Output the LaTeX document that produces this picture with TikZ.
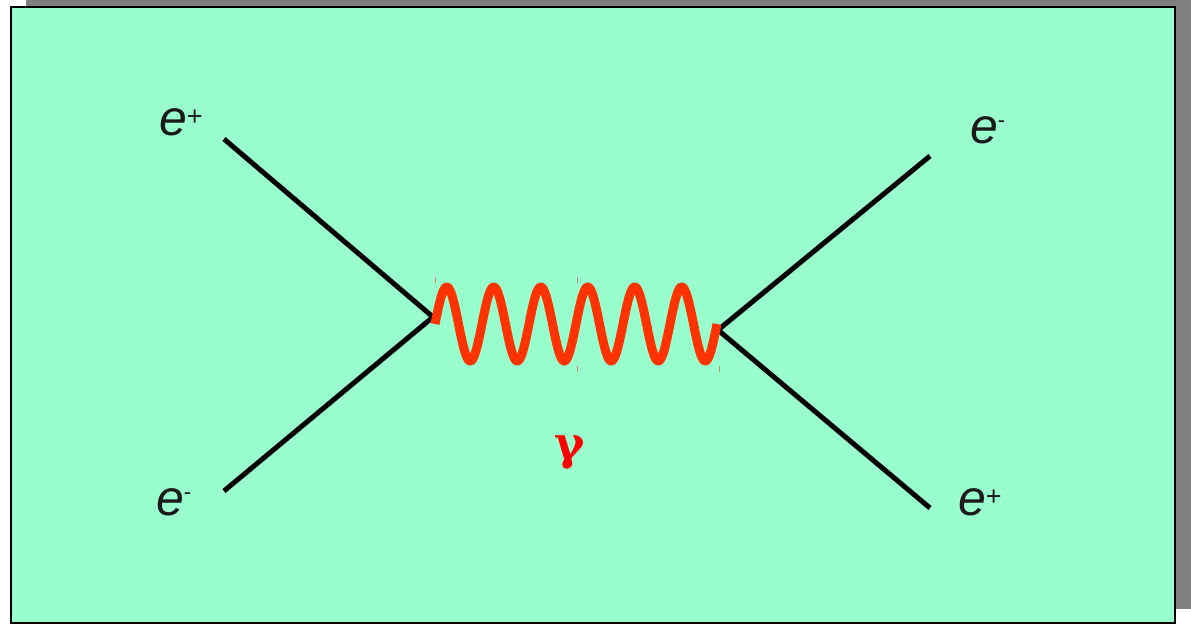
\documentclass[tikz,border=0pt]{standalone}
\usepackage{fontspec}
\setmainfont{Liberation Sans}
\newfontfamily\gfont{DejaVu Serif}
\definecolor{bggreen}{HTML}{99FFCC}
\definecolor{shadowgray}{HTML}{808080}
\definecolor{waveorange}{HTML}{FF3300}
\definecolor{ticktan}{HTML}{CC8866}
\definecolor{inkdark}{HTML}{1A1A1A}
\tikzset{
  leg/.style={line width=5pt, black},
  wave/.style={line width=9pt, waveorange, line join=round},
  lbl/.style={inner sep=0pt, outer sep=0pt, anchor=base west, text=inkdark, font=\fontsize{50}{50}\selectfont\itshape},
  tick/.style={line width=1pt, ticktan}
}
\newcommand{\supplus}{\raisebox{10pt}{\fontsize{27}{27}\selectfont\upshape +}}
\newcommand{\supminus}{\raisebox{16pt}{\fontsize{22}{22}\selectfont\upshape -}}
\begin{document}
\begin{tikzpicture}[x=1pt, y=-1pt]
\useasboundingbox (0,0) rectangle (1191,624);
% shadow and panel
\fill[shadowgray] (26,-10) rectangle (1191,609);
\draw[fill=bggreen, line width=2pt] (11,7) rectangle (1175,623);
% vertices and free ends
\coordinate (vL) at (433,317);
\coordinate (vR) at (718,330);
\coordinate (inTop) at (224,139);
\coordinate (inBot) at (224,491);
\coordinate (outTop) at (930,156);
\coordinate (outBot) at (930,508);
\draw[leg] (inTop) -- (vL);
\draw[leg] (inBot) -- (vL);
\draw[leg] (outTop) -- (vR);
\draw[leg] (outBot) -- (vR);
% photon
\draw[wave] plot[domain=0:282, samples=300, variable=\t] ({435+\t},{324-37*sin(\t*7.65957)});
% selection ticks
\coordinate (t1) at (435.5,277); \draw[tick] (t1) -- ++(0,6);
\coordinate (t2) at (577,277); \draw[tick] (t2) -- ++(0,6);
\coordinate (t3) at (577,366); \draw[tick] (t3) -- ++(0,6);
\coordinate (t4) at (719,366); \draw[tick] (t4) -- ++(0,6);
% labels
\node[lbl] (ep1) at (159,135) {e\supplus};
\node[lbl] (em1) at (970,143) {e\supminus};
\node[lbl] (em2) at (156,515) {e\supminus};
\node[lbl] (ep2) at (958,515) {e\supplus};
\node[inner sep=0pt, text=red, font=\fontsize{46}{46}\selectfont\gfont\bfseries] (gamma) at (569.5,452) {γ};
\end{tikzpicture}
\end{document}
